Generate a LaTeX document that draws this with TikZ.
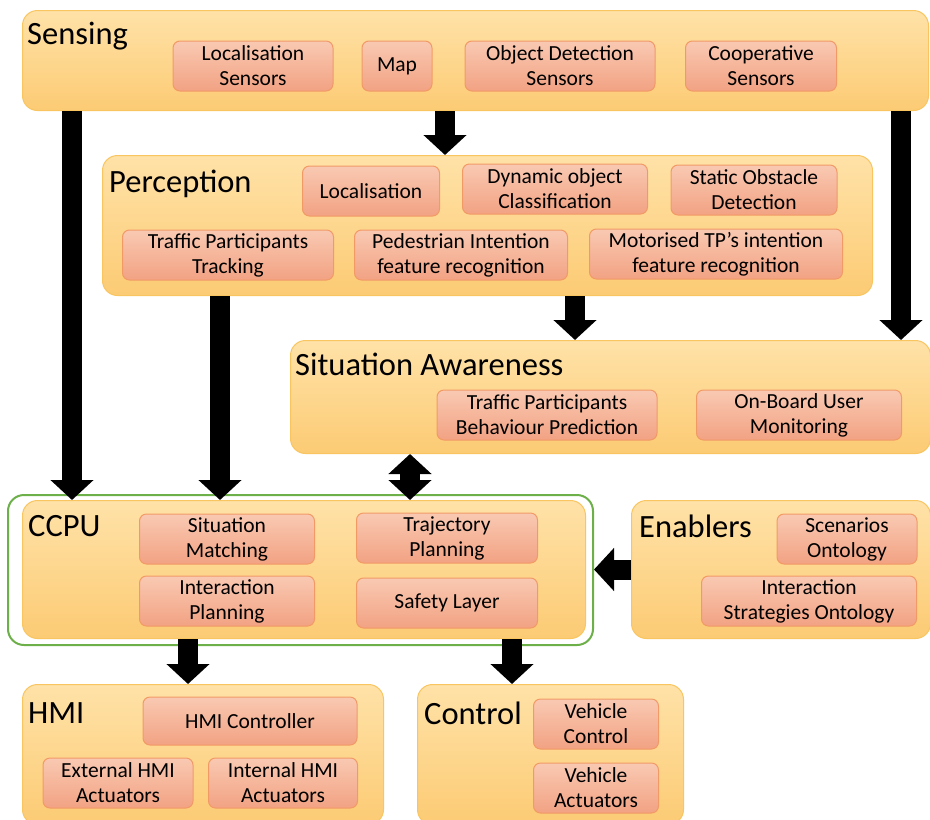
\documentclass[tikz,border=0pt]{standalone}
\usepackage{fontspec}
\setmainfont{Carlito}[Ligatures=ResetAll]
\usepackage{tikz}
\usetikzlibrary{arrows.meta}

\definecolor{layertop}{HTML}{FFE2A8}
\definecolor{layerbot}{HTML}{FCCB74}
\definecolor{layerline}{HTML}{F9C560}
\definecolor{blocktop}{HTML}{F9C9B2}
\definecolor{blockbot}{HTML}{F2A283}
\definecolor{blockline}{HTML}{F29A66}
\definecolor{frameline}{HTML}{6DB04A}

\tikzset{
  layer/.style={anchor=north west, rounded corners=15pt, draw=layerline, line width=1pt,
    top color=layertop, bottom color=layerbot, inner sep=0pt},
  title/.style={anchor=west, inner sep=0pt, font=\fontsize{32.5}{36}\selectfont},
  block/.style={rounded corners=7pt, draw=blockline, line width=1pt,
    top color=blocktop, bottom color=blockbot, minimum height=50pt, inner sep=0pt,
    align=center, font=\fontsize{21.5}{25}\selectfont},
  bigarrow/.style={line width=20pt, -{Triangle[width=42pt,length=20pt]}},
  twoarrow/.style={line width=20pt, {Triangle[width=42pt,length=20pt]}-{Triangle[width=42pt,length=20pt]}}
}

\begin{document}
\begin{tikzpicture}[x=1pt, y=-1pt]
    \useasboundingbox[fill=white] (0,0) rectangle (930,820);

    % Sensing layer
    \node[layer, minimum width=906pt, minimum height=100pt] (sensing) at (22,10) {};
    \node[title] (sensingtitle) at (27,36) {Sensing};
    \node[block, minimum width=160pt] (locsens) at (253,66) {Localisation\\Sensors};
    \node[block, minimum width=70pt] (map) at (397,66) {Map};
    \node[block, minimum width=190pt] (objdet) at (560,66) {Object Detection\\Sensors};
    \node[block, minimum width=151pt] (coop) at (761,66) {Cooperative\\Sensors};

    % Perception layer
    \node[layer, minimum width=770pt, minimum height=140pt] (perception) at (102,155) {};
    \node[title] (perceptiontitle) at (109,184) {Perception};
    \node[block, minimum width=137pt] (loc) at (371,191) {Localisation};
    \node[block, minimum width=185pt] (dynobj) at (555,189) {Dynamic object\\Classification};
    \node[block, minimum width=166pt] (statobs) at (754,190) {Static Obstacle\\Detection};
    \node[block, minimum width=211pt] (tracking) at (228,255) {Traffic Participants\\Tracking};
    \node[block, minimum width=213pt] (pedint) at (461,255) {Pedestrian Intention\\feature recognition};
    \node[block, minimum width=253pt] (motint) at (716,254) {Motorised TP's intention\\feature recognition};

    % Situation awareness layer
    \node[layer, minimum width=640pt, minimum height=113pt] (sa) at (290,340) {};
    \node[title] (satitle) at (295,364) {Situation Awareness};
    \node[block, minimum width=220pt] (behav) at (547,415) {Traffic Participants\\Behaviour Prediction};
    \node[block, minimum width=205pt] (onboard) at (799,415) {On-Board User\\Monitoring};

    % CCPU with green frame
    \node[anchor=north west, rounded corners=16pt, draw=frameline, line width=2pt,
      minimum width=585pt, minimum height=150pt, inner sep=0pt] (ccpuframe) at (7,494) {};
    \node[layer, minimum width=563pt, minimum height=138pt] (ccpu) at (22,500) {};
    \node[title] (ccputitle) at (28,526) {CCPU};
    \node[block, minimum width=175pt] (sitmatch) at (227,539) {Situation\\Matching};
    \node[block, minimum width=181pt] (traj) at (447,538) {Trajectory\\Planning};
    \node[block, minimum width=175pt] (interplan) at (227,601) {Interaction\\Planning};
    \node[block, minimum width=181pt] (safety) at (447,603) {Safety Layer};

    % Enablers
    \node[layer, minimum width=299pt, minimum height=138pt] (enablers) at (631,500) {};
    \node[title] (enablerstitle) at (639,526) {Enablers};
    \node[block, minimum width=140pt] (scen) at (847,539) {Scenarios\\Ontology};
    \node[block, minimum width=215pt] (strat) at (809,601) {Interaction\\Strategies Ontology};

    % HMI
    \node[layer, minimum width=361pt, minimum height=140pt] (hmi) at (22,684) {};
    \node[title] (hmititle) at (28,713) {HMI};
    \node[block, minimum width=214pt, minimum height=48pt] (hmictrl) at (250,721) {HMI Controller};
    \node[block, minimum width=150pt] (exthmi) at (118,783) {External HMI\\Actuators};
    \node[block, minimum width=149pt] (inthmi) at (283,783) {Internal HMI\\Actuators};

    % Control
    \node[layer, minimum width=266pt, minimum height=140pt] (control) at (417,684) {};
    \node[title] (controltitle) at (424,713) {Control};
    \node[block, minimum width=125pt] (vehctrl) at (596,724) {Vehicle\\Control};
    \node[block, minimum width=125pt] (vehact) at (596,788) {Vehicle\\Actuators};

    % Flows
    \draw[bigarrow] ([xshift=50pt]sensing.south west) -- ([xshift=50pt]ccpu.north west);
    \draw[bigarrow] ([xshift=423pt]sensing.south west) -- ([xshift=343pt]perception.north west);
    \draw[bigarrow] ([xshift=-28pt]sensing.south east) -- ([xshift=-30pt]sa.north east);
    \draw[bigarrow] ([xshift=-8pt]tracking.center |- perception.south) -- ([xshift=-8pt]tracking.center |- ccpu.north);
    \draw[bigarrow] ([xshift=285pt]sa.north west |- perception.south) -- ([xshift=285pt]sa.north west);
    \draw[twoarrow] ([xshift=120pt]sa.south west) -- ([xshift=388pt]ccpu.north west);
    \draw[bigarrow] (enablers.west) -- (enablers.west -| ccpuframe.east);
    \draw[bigarrow] ([xshift=166pt]ccpu.south west) -- ([xshift=166pt]ccpu.south west |- hmi.north);
    \draw[bigarrow] ([xshift=490pt]ccpu.south west) -- ([xshift=490pt]ccpu.south west |- control.north);
\end{tikzpicture}
\end{document}
